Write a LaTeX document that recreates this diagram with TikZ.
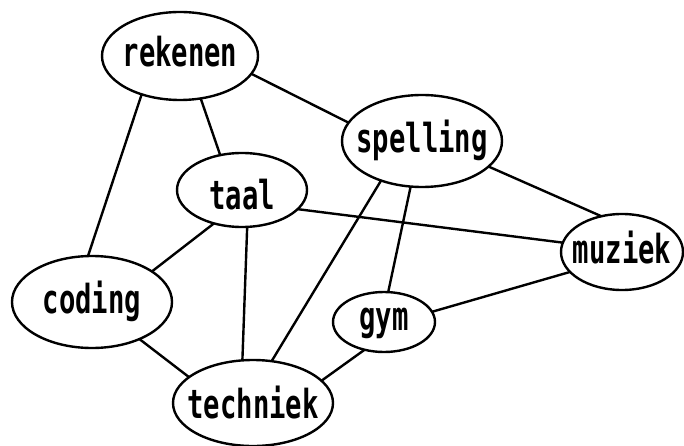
\documentclass[tikz,border=0pt]{standalone}
\usepackage{fontspec}
\newfontfamily\wordfont{DejaVu Sans Mono}
\usetikzlibrary{shapes.geometric}

% word inside a topic bubble: condensed, zero width so the bubble keeps its own size,
% optionally raised or lowered
\newcommand\wrd[2][0pt]{\raisebox{#1}{\makebox[0pt][c]{\scalebox{0.68}[1]{#2}}}}

\tikzset{
  topic/.style={ellipse, draw=black, line width=2.4pt, inner sep=0pt, outer sep=0pt,
    text height=22pt, text depth=0pt,
    font=\wordfont\bfseries\fontsize{40}{40}\selectfont},
  link/.style={draw=black, line width=2.4pt}
}

\begin{document}
\begin{tikzpicture}[x=1pt, y=-1pt]
  \useasboundingbox (0,0) rectangle (684,446);

  % topics
  \node[topic, minimum width=156pt, minimum height=88pt] (rekenen)  at (180,56)  {\wrd{rekenen}};
  \node[topic, minimum width=160pt, minimum height=92pt] (spelling) at (422,141) {\wrd[-1pt]{spelling}};
  \node[topic, minimum width=130pt, minimum height=74pt] (taal)     at (242,190) {\wrd[-9pt]{taal}};
  \node[topic, minimum width=122pt, minimum height=76pt] (muziek)   at (622,252) {\wrd{muziek}};
  \node[topic, minimum width=160pt, minimum height=92pt] (coding)   at (92,302)  {\wrd{coding}};
  \node[topic, minimum width=102pt, minimum height=60pt] (gym)      at (384,322) {\wrd[3pt]{gym}};
  \node[topic, minimum width=160pt, minimum height=86pt] (techniek) at (253,403) {\wrd[-4pt]{techniek}};

  % links between topics
  \draw[link] (rekenen.-14)  -- (spelling.166);
  \draw[link] (rekenen.-64)  -- (taal.122);
  \draw[link] (rekenen.225)  -- (coding.95);
  \draw[link] (spelling.-21) -- (muziek.120);
  \draw[link] (spelling.256) -- (gym.82);
  \draw[link] (spelling.224) -- (techniek.66);
  \draw[link] (taal.-19)     -- (muziek.171);
  \draw[link] (taal.230)     -- (coding.27);
  \draw[link] (taal.-82)     -- (techniek.104);
  \draw[link] (muziek.201)   -- (gym.12);
  \draw[link] (coding.-38)   -- (techniek.158);
  \draw[link] (gym.235)      -- (techniek.18);
\end{tikzpicture}
\end{document}
